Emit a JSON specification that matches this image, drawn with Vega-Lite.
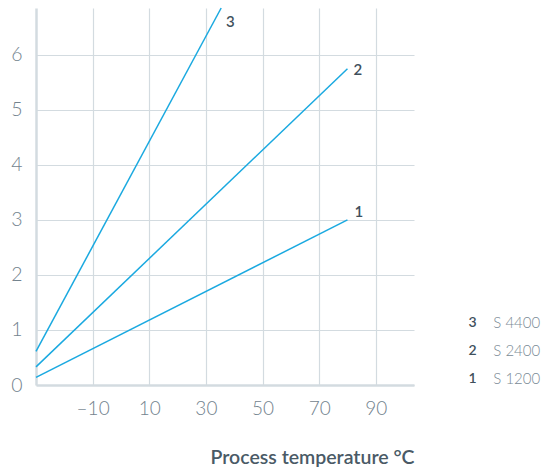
{
  "$schema": "https://vega.github.io/schema/vega-lite/v6.json",
  "autosize": "none",
  "width": 378,
  "height": 377,
  "padding": {"left": 36, "top": 8, "right": 132, "bottom": 82},
  "config": {
    "view": {"stroke": null},
    "font": "Lato"
  },
  "datasets": {
    "lines": [
      {"series": "1", "t": -30, "v": 0.14},
      {"series": "1", "t": 80, "v": 3.0},
      {"series": "2", "t": -30, "v": 0.33},
      {"series": "2", "t": 80, "v": 5.745},
      {"series": "3", "t": -30, "v": 0.61},
      {"series": "3", "t": 35.4, "v": 6.85}
    ],
    "labels": [
      {"series": "1", "t": 84, "v": 3.15},
      {"series": "2", "t": 83.7, "v": 5.73},
      {"series": "3", "t": 38.6, "v": 6.6}
    ],
    "legend": [
      {"n": "3", "name": "S 4400", "tn": 124.2, "tt": 131.5, "v": 1.13},
      {"n": "2", "name": "S 2400", "tn": 124.2, "tt": 131.5, "v": 0.62},
      {"n": "1", "name": "S 1200", "tn": 124.2, "tt": 131.5, "v": 0.1}
    ]
  },
  "layer": [
    {
      "data": {"name": "lines"},
      "mark": {"type": "line", "color": "#1aa9e0", "strokeWidth": 1.5, "clip": false},
      "encoding": {
        "x": {
          "field": "t", "type": "quantitative",
          "scale": {"domain": [-30, 103.5], "nice": false, "zero": false},
          "axis": {
            "values": [-10, 10, 30, 50, 70, 90],
            "format": "d",
            "title": "Process temperature °C",
            "titleFont": "Lato", "titleFontSize": 19.5, "titleFontWeight": 600,
            "titleColor": "#4a5a66", "titleAnchor": "end", "titlePadding": 30,
            "labelFont": "Lato", "labelFontSize": 19, "labelColor": "#73838e", "labelFontWeight": 300,
            "labelPadding": 14,
            "labelExpr": "replace(datum.label, '−', '–')",
            "ticks": false,
            "domainColor": "#d3dbe0", "domainWidth": 2.5,
            "gridColor": "#d3dbe0", "gridWidth": 1.2
          }
        },
        "y": {
          "field": "v", "type": "quantitative",
          "scale": {"domain": [0, 6.85], "nice": false},
          "axis": {
            "values": [0, 1, 2, 3, 4, 5, 6],
            "format": "d",
            "title": null,
            "labelFont": "Lato", "labelFontSize": 19.5, "labelColor": "#73838e", "labelFontWeight": 300,
            "labelPadding": 14,
            "ticks": false,
            "domainColor": "#d3dbe0", "domainWidth": 2.5,
            "gridColor": "#d3dbe0", "gridWidth": 1.2
          }
        },
        "detail": {"field": "series"}
      }
    },
    {
      "data": {"name": "labels"},
      "mark": {"type": "text", "fontSize": 15, "fontWeight": 600, "color": "#3f505c", "align": "center", "baseline": "middle"},
      "encoding": {
        "x": {"field": "t", "type": "quantitative"},
        "y": {"field": "v", "type": "quantitative"},
        "text": {"field": "series"}
      }
    },
    {
      "data": {"name": "legend"},
      "mark": {"type": "text", "fontSize": 14, "fontWeight": 600, "color": "#3f505c", "align": "center", "baseline": "middle"},
      "encoding": {
        "x": {"field": "tn", "type": "quantitative"},
        "y": {"field": "v", "type": "quantitative"},
        "text": {"field": "n"}
      }
    },
    {
      "data": {"name": "legend"},
      "mark": {"type": "text", "fontSize": 15, "fontWeight": 300, "color": "#7a8a95", "align": "left", "baseline": "middle"},
      "encoding": {
        "x": {"field": "tt", "type": "quantitative"},
        "y": {"field": "v", "type": "quantitative"},
        "text": {"field": "name"}
      }
    }
  ]
}
